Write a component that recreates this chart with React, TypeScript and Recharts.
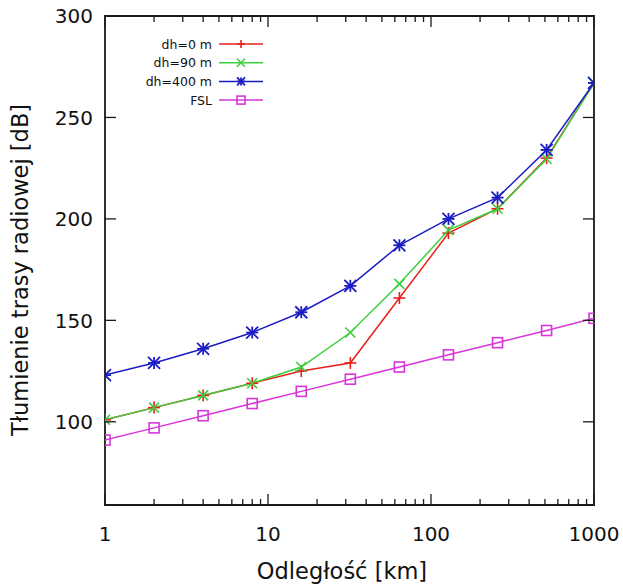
import { LineChart, Line, XAxis, YAxis, ReferenceArea, Legend } from "recharts";

const distances = [1, 2, 4, 8, 16, 32, 64, 128, 256, 512, 1000];
const dh0 = [101, 107, 113, 119, 125, 129, 161, 193, 205, 230, 267];
const dh90 = [101, 107, 113, 119, 127, 144, 168, 194.5, 205, 229.5, 267];
const dh400 = [123, 129, 136, 144, 154, 167, 187, 200, 210.5, 234, 267];
const fsl = [91, 97, 103, 109, 115, 121, 127, 133, 139, 145, 151];

const xTicks = [1, 2, 3, 4, 5, 6, 7, 8, 9, 10, 20, 30, 40, 50, 60, 70, 80, 90, 100, 200, 300, 400, 500, 600, 700, 800, 900, 1000];
const xLabels = [1, 10, 100, 1000];
const yTicks = [100, 150, 200, 250, 300];

const rows = distances.map((d, i) => ({ d, dh0: dh0[i], dh90: dh90[i], dh400: dh400[i], fsl: fsl[i] }));

const PLOT_W = 489;
const PLOT_H = 489;
const FONT = "DejaVu Sans, Verdana, sans-serif";
const AXIS = "#1a1a1a";

const RED = "#e8201c";
const GREEN = "#3ccf3c";
const BLUE = "#1c1cc4";
const MAGENTA = "#d935d9";

function Mark({ kind, cx, cy, color, s }: { kind: string; cx: number; cy: number; color: string; s: number }) {
  if (cx == null || cy == null) return null;
  const w = 1.6;
  if (kind === "plus")
    return (
      <g stroke={color} strokeWidth={w}>
        <line x1={cx - s} x2={cx + s} y1={cy} y2={cy} />
        <line x1={cx} x2={cx} y1={cy - s} y2={cy + s} />
      </g>
    );
  if (kind === "cross")
    return (
      <g stroke={color} strokeWidth={w}>
        <line x1={cx - s} x2={cx + s} y1={cy - s} y2={cy + s} />
        <line x1={cx - s} x2={cx + s} y1={cy + s} y2={cy - s} />
      </g>
    );
  if (kind === "star")
    return (
      <g stroke={color} strokeWidth={1.8}>
        <line x1={cx - s} x2={cx + s} y1={cy - s} y2={cy + s} />
        <line x1={cx - s} x2={cx + s} y1={cy + s} y2={cy - s} />
        <line x1={cx - s} x2={cx + s} y1={cy} y2={cy} />
        <line x1={cx} x2={cx} y1={cy - s} y2={cy + s} />
      </g>
    );
  return <rect x={cx - s} y={cy - s} width={2 * s} height={2 * s} fill="none" stroke={color} strokeWidth={w} />;
}

const series = [
  { key: "dh0", name: "dh=0 m", color: RED, kind: "plus", s: 6 },
  { key: "dh90", name: "dh=90 m", color: GREEN, kind: "cross", s: 5 },
  { key: "dh400", name: "dh=400 m", color: BLUE, kind: "star", s: 6 },
  { key: "fsl", name: "FSL", color: MAGENTA, kind: "square", s: 5 },
];

function XTick(props: any) {
  const { x, y, payload } = props;
  const v = payload.value;
  const major = xLabels.includes(v);
  const len = major ? 11 : 6;
  return (
    <g>
      <line x1={x} x2={x} y1={y} y2={y - len} stroke={AXIS} strokeWidth={1.3} />
      <line x1={x} x2={x} y1={y - PLOT_H} y2={y - PLOT_H + len} stroke={AXIS} strokeWidth={1.3} />
      {major && (
        <text x={x} y={y + 29} dy="0.36em" textAnchor="middle" fontSize={20} fontFamily={FONT} fill="#111">
          {v}
        </text>
      )}
    </g>
  );
}

function YTick(props: any) {
  const { x, y, payload } = props;
  return (
    <g>
      <line x1={x} x2={x + 11} y1={y} y2={y} stroke={AXIS} strokeWidth={1.3} />
      <line x1={x + PLOT_W - 11} x2={x + PLOT_W} y1={y} y2={y} stroke={AXIS} strokeWidth={1.3} />
      <text x={x - 12} y={y} dy="0.36em" textAnchor="end" fontSize={20} fontFamily={FONT} fill="#111">
        {payload.value}
      </text>
    </g>
  );
}

function YTitle() {
  return (
    <text x={20} y={270} transform="rotate(-90 20 270)" dy="0.36em" textAnchor="middle" fontSize={22.5} fontFamily={FONT} fill="#111">
      Tłumienie trasy radiowej [dB]
    </text>
  );
}

function XTitle() {
  return (
    <text x={342} y={571} dy="0.36em" textAnchor="middle" fontSize={22.5} fontFamily={FONT} fill="#111">
      Odległość [km]
    </text>
  );
}

function LegendBox() {
  return (
    <svg width={160} height={80}>
      {series.map((s, i) => {
        const y = 10 + i * 18.7;
        return (
          <g key={s.key}>
            <text x={92} y={y} dy="0.36em" textAnchor="end" fontSize={12.5} fontFamily={FONT} fill="#111">
              {s.name}
            </text>
            <line x1={99} x2={143} y1={y} y2={y} stroke={s.color} strokeWidth={1.5} />
            <Mark kind={s.kind} cx={121} cy={y} color={s.color} s={4} />
          </g>
        );
      })}
    </svg>
  );
}

export default function App() {
  return (
    <div style={{ position: "absolute", left: 0, top: 0, width: 623, height: 586, background: "#fff" }}>
      <LineChart width={623} height={586} data={rows} margin={{ top: 16, right: 29, left: 0, bottom: 0 }}>
        <XAxis
          dataKey="d"
          type="number"
          scale="log"
          domain={[1, 1000]}
          ticks={xTicks}
          interval={0}
          tickSize={0}
          tickMargin={0}
          height={81}
          axisLine={false}
          tick={<XTick />}
          label={<XTitle />}
          allowDataOverflow
        />
        <YAxis
          type="number"
          domain={[59, 300]}
          ticks={yTicks}
          interval={0}
          tickSize={0}
          tickMargin={0}
          width={105}
          axisLine={false}
          tick={<YTick />}
          label={<YTitle />}
          allowDataOverflow
        />
        <ReferenceArea x1={1} x2={1000} y1={59} y2={300} fill="none" fillOpacity={0} stroke={AXIS} strokeWidth={1.8} />
        {series.map((s) => (
          <Line
            key={s.key}
            dataKey={s.key}
            name={s.name}
            stroke={s.color}
            strokeWidth={1.5}
            isAnimationActive={false}
            dot={(p: any) => <Mark key={`${s.key}-${p.index}`} kind={s.kind} cx={p.cx} cy={p.cy} color={s.color} s={s.s} />}
            activeDot={false}
          />
        ))}
        <Legend
          layout="horizontal"
          verticalAlign="middle"
          align="center"
          wrapperStyle={{ left: 120, top: 34, width: 160, height: 80 }}
          content={() => <LegendBox />}
        />
      </LineChart>
    </div>
  );
}
